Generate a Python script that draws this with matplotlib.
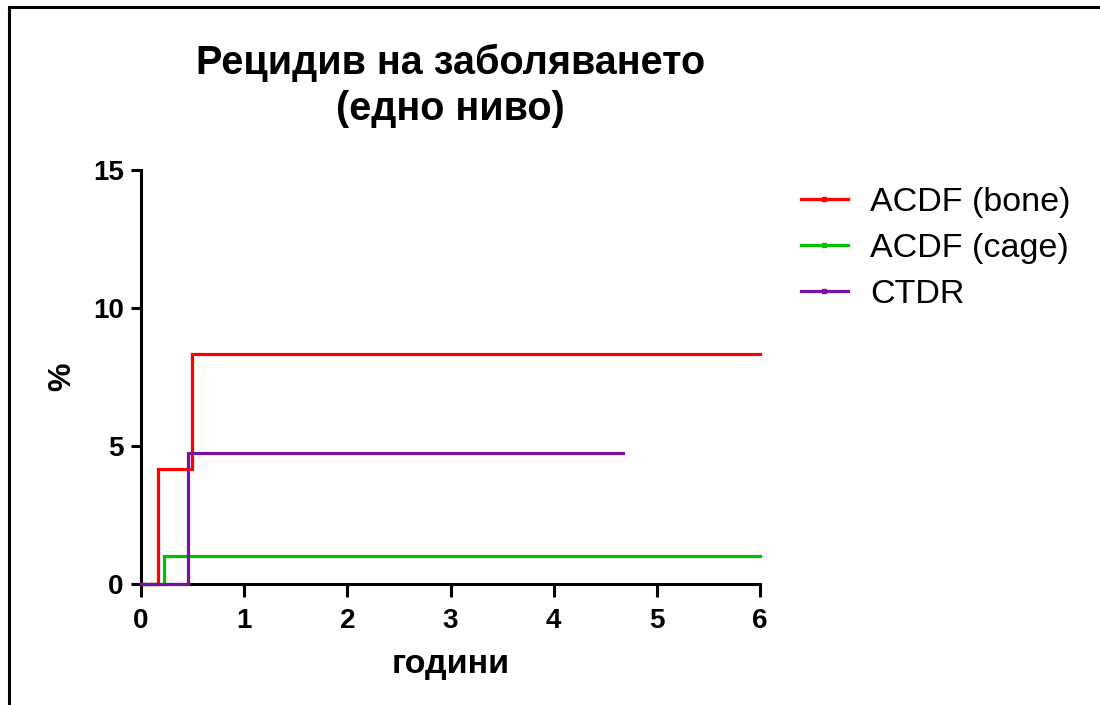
import matplotlib
matplotlib.use("Agg")
import matplotlib.pyplot as plt
from matplotlib.lines import Line2D

plt.rcParams['font.family'] = ['Liberation Sans', 'DejaVu Sans']

# Cumulative recurrence (%) over time (years)
bone_t = [0.0, 0.16, 0.49, 6.0]
bone_y = [0.0, 4.17, 8.33, 8.33]
cage_t = [0.0, 0.22, 6.0]
cage_y = [0.0, 1.0, 1.0]
ctdr_t = [0.0, 0.46, 4.67]
ctdr_y = [0.0, 4.76, 4.76]

series_labels = ["ACDF (bone)", "ACDF (cage)", "CTDR"]
series_colors = ["#ff0000", "#00c000", "#7a0fa0"]

x_ticks = [0, 1, 2, 3, 4, 5, 6]
y_ticks = [0, 5, 10, 15]

title = "Рецидив на заболяването\n(едно ниво)"
x_label = "години"
y_label = "%"

W, H = 1100, 705
fig = plt.figure(figsize=(W / 100, H / 100), dpi=100)
ax = fig.add_axes([141 / W, 1 - 584 / H, (760 - 141) / W, (584 - 170) / H])

series = [(bone_t, bone_y), (cage_t, cage_y), (ctdr_t, ctdr_y)]
handles = []
for (t, y), lab, col in zip(series, series_labels, series_colors):
    ax.step(t, y, where='post', color=col, lw=2.3, clip_on=False,
            solid_joinstyle='miter', zorder=3)
    handles.append(Line2D([], [], color=col, lw=2.3, marker='s', ms=3,
                          label=lab))

ax.set_xlim(0, 6)
ax.set_ylim(0, 15)
ax.set_xticks(x_ticks)
ax.set_yticks(y_ticks)
ax.set_xticklabels([str(v) for v in x_ticks], fontsize=20, fontweight='bold')
ax.set_yticklabels([str(v) for v in y_ticks], fontsize=20, fontweight='bold')
ax.tick_params(axis='both', direction='out', width=2.2, color='black')
ax.tick_params(axis='x', length=9, pad=8)
ax.tick_params(axis='y', length=7.5, pad=5)

for s in ['top', 'right']:
    ax.spines[s].set_visible(False)
for s in ['left', 'bottom']:
    ax.spines[s].set_linewidth(2.2)
    ax.spines[s].set_capstyle('projecting')

ax.set_xlabel(x_label, fontsize=24.5, fontweight='bold', labelpad=11)
ax.set_ylabel(y_label, fontsize=23, fontweight='bold', labelpad=11)
ax.set_title(title, fontsize=28.5, fontweight='bold', pad=36, linespacing=1.25)

fig.legend(handles=handles, loc='upper left',
           bbox_to_anchor=(787 / W, 1 - 173 / H), frameon=False,
           fontsize=24.5, handlelength=1.4, handletextpad=0.65,
           labelspacing=0.45, borderaxespad=0)

# outer frame: top and left edges
fig.add_artist(Line2D([9 / W, 1.0], [1 - 7 / H, 1 - 7 / H], color='black',
                      lw=2.2, transform=fig.transFigure))
fig.add_artist(Line2D([9 / W, 9 / W], [0.0, 1 - 7 / H], color='black',
                      lw=2.2, transform=fig.transFigure, solid_capstyle='projecting'))

fig.savefig("out.png", dpi=100)
